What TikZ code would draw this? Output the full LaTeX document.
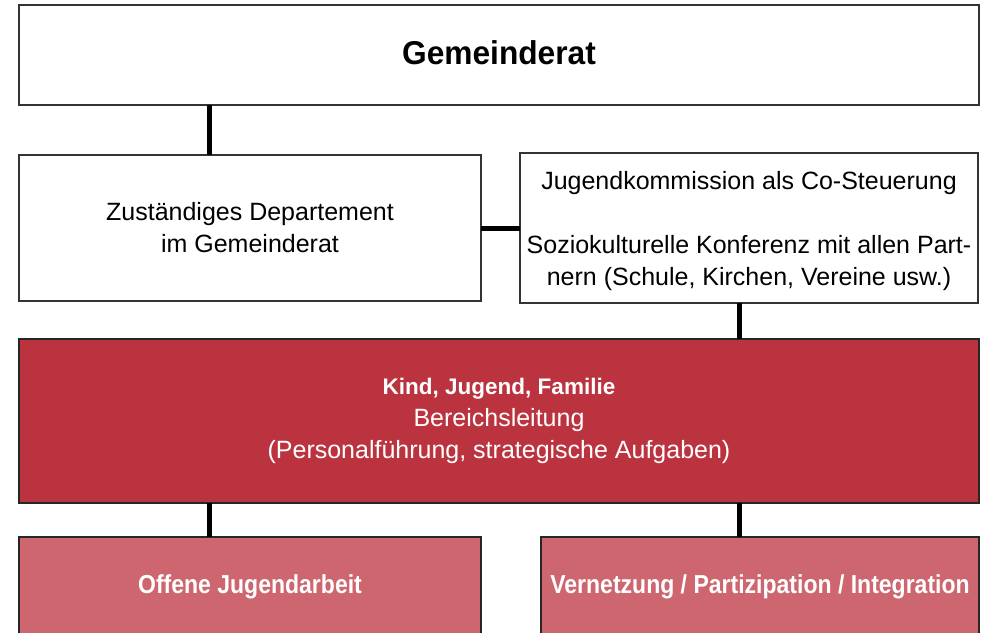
\documentclass[tikz,border=0pt]{standalone}
\usepackage{fontspec}
\setmainfont{Liberation Sans}
\newfontfamily\condA[FakeStretch=0.96]{Liberation Sans}
\newfontfamily\condB[FakeStretch=0.885]{Liberation Sans}
\definecolor{darkred}{HTML}{BC3340}
\definecolor{lightred}{HTML}{CD666E}
\definecolor{boxline}{HTML}{333333}
\begin{document}
\begin{tikzpicture}[x=1pt,y=-1pt,
  box/.style={draw=boxline, line width=1.3pt, rectangle, inner sep=0pt, outer sep=0pt,
    align=center, font=\fontsize{25}{32}\selectfont},
  redbox/.style={box, draw=black!85, fill=darkred, text=white},
  lowbox/.style={box, draw=black!85, fill=lightred, text=white, anchor=north,
    minimum height=130, text height=18pt, text depth=36pt,
    font=\condB\bfseries\fontsize{26}{32}\selectfont},
  link/.style={line width=5pt, black}]
\useasboundingbox (0,0) rectangle (981,632);
\coordinate (cl) at (209.5,0);
\coordinate (cr) at (739.5,0);
\node[box, minimum width=960, minimum height=100, text height=24pt, text depth=6pt,
  font=\condA\bfseries\fontsize{33}{40}\selectfont] (gr) at (499,55) {Gemeinderat};
\node[box, minimum width=462, minimum height=146] (dep) at (250,228)
  {Zuständiges Departement\\im Gemeinderat};
\node[box, minimum width=458, minimum height=150] (jk) at (749,228)
  {\rule{0pt}{24pt}Jugendkommission als Co-Steuerung\\[32pt]Soziokulturelle Konferenz mit allen Part-\\nern (Schule, Kirchen, Vereine usw.)};
\node[redbox, minimum width=960, minimum height=164] (kjf) at (499,421)
  {{\bfseries\fontsize{22.5}{32}\selectfont Kind, Jugend, Familie}\\Bereichsleitung\\(Personalführung, strategische Aufgaben)};
\node[lowbox, minimum width=462] (oja) at (250,537) {Offene Jugendarbeit};
\node[lowbox, minimum width=438] (vpi) at (760,537) {Vernetzung / Partizipation / Integration};
\draw[link] (gr.south -| cl) -- (dep.north -| cl);
\draw[link] (dep.east) -- (jk.west |- dep.east);
\draw[link] (jk.south -| cr) -- (kjf.north -| cr);
\draw[link] (kjf.south -| cl) -- (oja.north -| cl);
\draw[link] (kjf.south -| cr) -- (vpi.north -| cr);
\end{tikzpicture}
\end{document}
